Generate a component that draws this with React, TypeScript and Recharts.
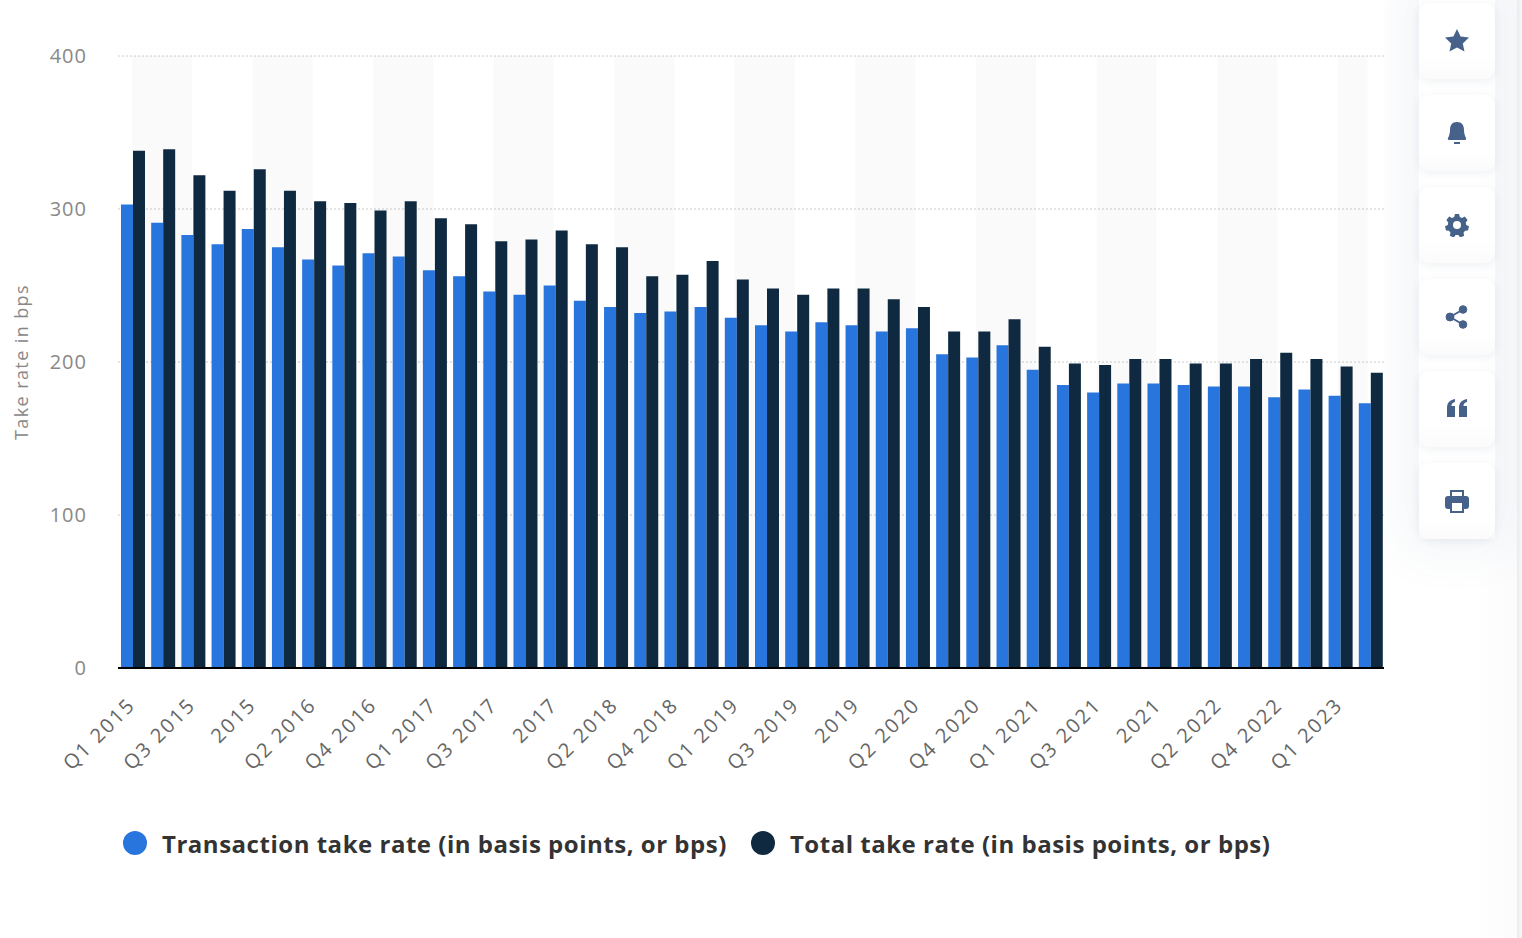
import { Bar, BarChart, CartesianGrid, Legend, ReferenceArea, XAxis, YAxis } from "recharts";

const categories = [
  "Q1 2015", "Q2 2015", "Q3 2015", "Q4 2015", "2015",
  "Q1 2016", "Q2 2016", "Q3 2016", "Q4 2016", "2016",
  "Q1 2017", "Q2 2017", "Q3 2017", "Q4 2017", "2017",
  "Q1 2018", "Q2 2018", "Q3 2018", "Q4 2018", "2018",
  "Q1 2019", "Q2 2019", "Q3 2019", "Q4 2019", "2019",
  "Q1 2020", "Q2 2020", "Q3 2020", "Q4 2020", "2020",
  "Q1 2021", "Q2 2021", "Q3 2021", "Q4 2021", "2021",
  "Q1 2022", "Q2 2022", "Q3 2022", "Q4 2022", "2022",
  "Q1 2023", "Q2 2023",
];

const transactionRate = [
  303, 291, 283, 277, 287, 275, 267, 263, 271, 269, 260, 256, 246, 244, 250, 240, 236, 232, 233, 236, 229,
  224, 220, 226, 224, 220, 222, 205, 203, 211, 195, 185, 180, 186, 186, 185, 184, 184, 177, 182, 178, 173,
];

const totalRate = [
  338, 339, 322, 312, 326, 312, 305, 304, 299, 305, 294, 290, 279, 280, 286, 277, 275, 256, 257, 266, 254,
  248, 244, 248, 248, 241, 236, 220, 220, 228, 210, 199, 198, 202, 202, 199, 199, 202, 206, 202, 197, 193,
];

const yTicks = [0, 100, 200, 300, 400];

const bandStarts = ["Q1 2015", "2015", "Q4 2016", "Q3 2017", "Q2 2018", "Q1 2019", "2019", "Q4 2020", "Q3 2021", "Q2 2022", "Q1 2023"];
const bandEnds = ["Q3 2015", "Q2 2016", "Q1 2017", "2017", "Q4 2018", "Q3 2019", "Q2 2020", "Q1 2021", "2021", "Q4 2022", "Q2 2023"];

const rows = categories.map((name, i) => ({
  name,
  order: i,
  transaction: transactionRate[i],
  total: totalRate[i],
}));

const FONT = "'Open Sans', sans-serif";

function AngledTick({ x, y, payload }: any) {
  const tx = x - 2;
  return (
    <text
      x={tx}
      y={y}
      transform={`rotate(-45 ${tx} ${y})`}
      textAnchor="end"
      dominantBaseline="central"
      fill="#666"
      fontSize={20}
      fontFamily={FONT}
      letterSpacing={2}
    >
      {payload.value}
    </text>
  );
}

function ChartLegend({ payload }: any) {
  return (
    <div style={{ display: "flex", alignItems: "center", fontFamily: FONT }}>
      {(payload ?? []).map((item: any) => (
        <div key={item.value} style={{ display: "flex", alignItems: "center", marginRight: 24 }}>
          <span style={{ width: 24, height: 24, borderRadius: 12, background: item.color, marginRight: 15 }} />
          <span style={{ fontSize: 24, fontWeight: 700, color: "#333", letterSpacing: 0.52, position: "relative", top: 0.5 }}>
            {item.value}
          </span>
        </div>
      ))}
    </div>
  );
}

const iconColor = "#46628a";

const icons = [
  <path key="star" d="M12 0l3.600 7.600 8.400 1-6.200 5.800 1.700 8.100L12 18.500 4.500 22.500l1.700-8.100L0 8.600l8.400-1z" fill={iconColor} />,
  <g key="bell" fill={iconColor}>
    <path d="M12 1c-5 0-7 3.500-7 8 0 3.500-1 6-2 8-.5 1 0 2 1 2h16c1 0 1.500-1 1-2-1-2-2-4.500-2-8 0-4.500-2-8-7-8z" />
    <rect x="9" y="21" width="6" height="2" />
  </g>,
  <path
    key="gear"
    fill={iconColor}
    fillRule="evenodd"
    d="M10 1h4l.8 3 2.200 1 2.800-1.500 2.800 3.500-1.800 2.500.4 2.500 2.800 1.300-1 4.200-3 .3-1.500 2 .7 3-4 1.700-1.800-2.500h-2.800l-1.800 2.500-4-1.700.7-3-1.500-2-3-.3-1-4.200L2.800 12l.4-2.500L1.400 7l2.800-3.500L7 5l2.200-1zM12 8a4 4 0 100 8 4 4 0 000-8z"
  />,
  <g key="share" fill={iconColor} stroke={iconColor}>
    <circle cx="5" cy="12" r="4" />
    <circle cx="18" cy="4.500" r="3.800" />
    <circle cx="18" cy="19.500" r="3.800" />
    <path d="M5 12L18 4.500M5 12l13 7.500" strokeWidth="2" fill="none" />
  </g>,
  <g key="quote" fill={iconColor}>
    <path d="M2 20v-9c0-5 2.500-8 8-9v3c-2.500.5-3.500 2-3.500 4H10v11z" />
    <path d="M14 20v-9c0-5 2.500-8 8-9v3c-2.500.5-3.500 2-3.500 4H22v11z" />
  </g>,
  <path
    key="print"
    fill={iconColor}
    fillRule="evenodd"
    d="M5 1h14v6H5zM7 3v4h10V3zM3 7h18a3 3 0 013 3v7a3 3 0 01-3 3h-2v4H5v-4H3a3 3 0 01-3-3v-7a3 3 0 013-3zM7 14v8h10v-8z"
  />,
];

function SideButtons() {
  return (
    <>
      {icons.map((icon, i) => (
        <div
          key={i}
          style={{
            position: "absolute",
            left: 1419,
            top: 3 + i * 92,
            width: 76,
            height: 76,
            borderRadius: 11,
            background: "linear-gradient(180deg, #ffffff 70%, #fbfbfc 100%)",
            boxShadow: "0 2px 8px rgba(70, 90, 120, 0.09)",
            display: "flex",
            alignItems: "center",
            justifyContent: "center",
          }}
        >
          <svg width={24} height={24} viewBox="0 0 24 24">
            {icon}
          </svg>
        </div>
      ))}
    </>
  );
}

export default function App() {
  return (
    <div style={{ position: "absolute", left: 0, top: 0, width: 1522, height: 938, background: "#fff", overflow: "hidden" }}>
      <div
        style={{
          position: "absolute",
          left: 1384,
          top: 0,
          width: 133,
          height: 938,
          background: "linear-gradient(90deg, #ffffff 70%, #fbfbfc 100%)",
        }}
      />
      <div style={{ position: "absolute", left: 1384, top: 0, width: 133, height: 938, overflow: "hidden" }}>
        <div
          style={{
            position: "absolute",
            left: 35,
            top: -20,
            width: 76,
            height: 559,
            boxShadow: "0 0 50px 10px rgba(70, 98, 138, 0.08)",
          }}
        />
      </div>
      <div style={{ position: "absolute", left: 1517, top: 0, width: 5, height: 938, background: "linear-gradient(90deg, #e9ebf0, #f7f8fa)" }} />
      <SideButtons />
      <div style={{ position: "absolute", left: 0, top: 0 }}>
        <BarChart
          width={1384}
          height={938}
          data={rows}
          margin={{ top: 56, right: 0, bottom: 170, left: 0 }}
          barCategoryGap={3}
          barGap={0}
        >
          <CartesianGrid vertical={false} stroke="#ccc" strokeDasharray="2 2" />
          <XAxis
            dataKey="name"
            interval={1}
            height={100}
            padding={{ left: 0, right: -2 }}
            tickLine={false}
            tickSize={0}
            tickMargin={33}
            axisLine={{ stroke: "#000", strokeWidth: 2 }}
            tick={<AngledTick />}
          />
          <XAxis xAxisId="bands" dataKey="order" type="number" domain={[0, categories.length]} allowDataOverflow hide />
          <YAxis
            width={118}
            domain={[0, 400]}
            ticks={yTicks}
            axisLine={false}
            tickLine={false}
            tickSize={0}
            tickMargin={31}
            tick={{ fill: "#888", fontSize: 20, fontFamily: FONT, letterSpacing: 1 }}
            label={{
              value: "Take rate in bps",
              angle: -90,
              position: "insideLeft",
              offset: 22,
              fill: "#888",
              fontSize: 18,
              fontFamily: FONT,
              letterSpacing: 1.4,
              textAnchor: "middle",
            }}
          />
          {bandStarts.map((start, i) => (
            <ReferenceArea
              key={start}
              xAxisId="bands"
              x1={categories.indexOf(start) + 0.46}
              x2={categories.indexOf(bandEnds[i]) + 0.46}
              fill="#000"
              fillOpacity={0.02}
              stroke="none"
            />
          ))}
          <Legend
            layout="horizontal"
            verticalAlign="middle"
            align="center"
            itemSorter={null}
            wrapperStyle={{ left: 123, top: 826, width: 1250 }}
            content={<ChartLegend />}
          />
          <Bar dataKey="transaction" name="Transaction take rate (in basis points, or bps)" fill="#2875de" isAnimationActive={false} />
          <Bar dataKey="total" name="Total take rate (in basis points, or bps)" fill="#0f2a40" isAnimationActive={false} />
        </BarChart>
      </div>
    </div>
  );
}
